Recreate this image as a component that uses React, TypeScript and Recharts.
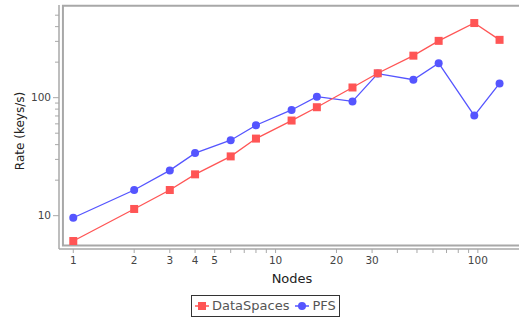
import React from 'react';
import { LineChart, Line, XAxis, YAxis, ReferenceArea, Legend } from 'recharts';

// values
const nodes = [1, 2, 3, 4, 6, 8, 12, 16, 24, 32, 48, 64, 96, 128];
const dataSpacesRate = [6.1, 11.4, 16.5, 22.4, 31.8, 45, 64, 83, 122, 161, 227, 303, 429, 309];
const pfsRate = [9.6, 16.5, 24.2, 33.9, 43.6, 58.4, 78.7, 102, 93, 160, 142, 196, 70.5, 132];

const xTicks = [1, 2, 3, 4, 5, 6, 7, 8, 9, 10, 20, 30, 40, 50, 60, 70, 80, 90, 100];
const xTickLabels = [1, 2, 3, 4, 5, 10, 20, 30, 100];
const yTicks = [10, 20, 30, 40, 50, 60, 70, 80, 90, 100, 200, 300, 400, 500];
const yTickLabels = [10, 100];

const RED = '#ff5555';
const BLUE = '#5555ff';
const FONT = '"DejaVu Sans", sans-serif';
const AXIS_GRAY = '#a8a8a8';

const data = nodes.map((n, i) => ({
  nodes: n,
  dataSpaces: dataSpacesRate[i],
  pfs: pfsRate[i],
}));

const XTick = ({ x, y, payload }: any) => {
  if (!xTickLabels.includes(payload.value)) return null;
  return (
    <text x={x} y={y} dy="0.71em" textAnchor="middle" fontSize={10.5} fontFamily={FONT} fill="#444">
      {payload.value}
    </text>
  );
};

const YTick = ({ x, y, payload }: any) => {
  const ax = x + 8; // tickSize 6 + tickMargin 2
  const major = yTickLabels.includes(payload.value);
  return (
    <g>
      <line x1={ax - (major ? 6 : 4)} x2={ax} y1={y} y2={y} stroke={AXIS_GRAY} strokeWidth={1} />
      {major && (
        <text x={ax - 8} y={y} dy="0.355em" textAnchor="end" fontSize={10.5} fontFamily={FONT} fill="#444">
          {payload.value}
        </text>
      )}
    </g>
  );
};

const SquareDot = (props: any) => {
  const { cx, cy, index } = props;
  if (cx == null || cy == null) return null;
  return <rect key={`sq-${index}`} x={cx - 4} y={cy - 4} width={8} height={8} fill={RED} />;
};

const legendItems = [
  { name: 'DataSpaces', color: RED, shape: 'square' },
  { name: 'PFS', color: BLUE, shape: 'circle' },
];

const renderLegend = () => (
  <div
    style={{
      display: 'inline-flex',
      alignItems: 'center',
      border: '1.5px solid #333',
      background: '#fff',
      padding: '2px 3px 2px 3px',
      fontFamily: FONT,
      fontSize: 13,
      color: '#555',
      lineHeight: '16px',
    }}
  >
    {legendItems.map((item, i) => (
      <span
        key={item.name}
        style={{ display: 'inline-flex', alignItems: 'center', marginRight: i < legendItems.length - 1 ? 6 : 0 }}
      >
        <svg width={14} height={10} style={{ marginRight: 3 }}>
          <line x1={0} x2={14} y1={5} y2={5} stroke={item.color} strokeWidth={1.5} />
          {item.shape === 'square' ? (
            <rect x={3} y={1} width={8} height={8} fill={item.color} />
          ) : (
            <circle cx={7} cy={5} r={4} fill={item.color} />
          )}
        </svg>
        {item.name}
      </span>
    ))}
  </div>
);

const App: React.FC = () => {
  return (
    <div
      style={{
        position: 'absolute',
        left: 0,
        top: 0,
        width: 519,
        height: 320,
        overflow: 'hidden',
        background: '#fff',
      }}
    >
      <LineChart width={525} height={320} data={data} margin={{ top: 5, right: 0, bottom: 0, left: 0 }}>
        <XAxis
          dataKey="nodes"
          type="number"
          scale="log"
          domain={[0.85, 171]}
          allowDataOverflow
          ticks={xTicks}
          interval={0}
          height={71}
          axisLine={{ stroke: AXIS_GRAY, strokeWidth: 1.5 }}
          tickLine={{ stroke: AXIS_GRAY }}
          tickSize={4}
          tickMargin={4}
          tick={<XTick />}
          label={{
            content: (p: any) => {
              const vb = p.viewBox;
              return (
                <text
                  x={vb.x + vb.width / 2}
                  y={vb.y + 34}
                  textAnchor="middle"
                  fontSize={13}
                  fontFamily={FONT}
                  fill="#222"
                >
                  Nodes
                </text>
              );
            },
          }}
        />
        <YAxis
          type="number"
          scale="log"
          domain={[5.22, 610]}
          allowDataOverflow
          ticks={yTicks}
          interval={0}
          width={59}
          axisLine={{ stroke: AXIS_GRAY, strokeWidth: 1.5 }}
          tickLine={false}
          tickSize={6}
          tickMargin={2}
          tick={<YTick />}
          label={{
            content: (p: any) => {
              const vb = p.viewBox;
              const cx = vb.x + 20;
              const cy = vb.y + vb.height / 2 + 4;
              return (
                <text
                  x={cx}
                  y={cy}
                  dy="0.355em"
                  transform={`rotate(-90 ${cx} ${cy})`}
                  textAnchor="middle"
                  fontSize={12}
                  fontFamily={FONT}
                  fill="#222"
                >
                  Rate (keys/s)
                </text>
              );
            },
          }}
        />
        <ReferenceArea
          x1={0.889}
          x2={171}
          y1={5.59}
          y2={600}
          fill="none"
          stroke={AXIS_GRAY}
          strokeWidth={2}
          ifOverflow="visible"
        />
        <Line
          dataKey="pfs"
          name="PFS"
          stroke={BLUE}
          strokeWidth={1.3}
          dot={{ r: 4, fill: BLUE, stroke: 'none' }}
          isAnimationActive={false}
        />
        <Line
          dataKey="dataSpaces"
          name="DataSpaces"
          stroke={RED}
          strokeWidth={1.3}
          dot={SquareDot}
          isAnimationActive={false}
        />
        <Legend
          layout="horizontal"
          verticalAlign="middle"
          align="center"
          content={renderLegend}
          wrapperStyle={{ left: 191, top: 295, width: 'auto', height: 'auto' }}
        />
      </LineChart>
    </div>
  );
};

export default App;
